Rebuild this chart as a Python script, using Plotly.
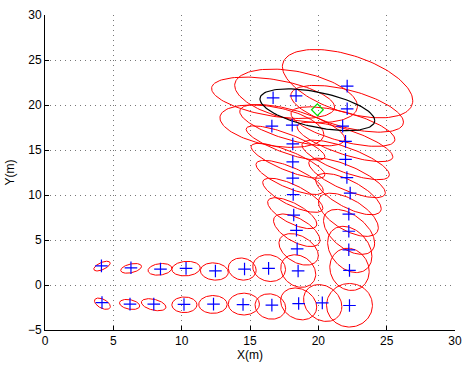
import numpy as np
import plotly.graph_objects as go

# True landmark positions (blue crosses)
cross_x = [4.13, 6.29, 8.45, 10.32, 12.47, 14.60, 16.36, 18.52,
           4.17, 6.22, 7.96, 10.17, 12.33, 14.49, 16.60, 18.56, 20.29, 22.28,
           18.45, 18.40, 18.20, 18.16, 18.13, 18.13, 18.13,
           22.28, 22.23, 22.23, 22.23, 22.33, 22.09, 21.99, 21.99,
           16.60, 18.09, 21.78, 16.69, 18.37, 22.11, 22.11]
cross_y = [2.13, 1.91, 1.77, 1.85, 1.56, 1.77, 1.85, 1.56,
           -1.95, -2.13, -2.13, -2.16, -2.13, -2.17, -2.24, -2.06, -1.99, -2.28,
           4.02, 6.08, 7.77, 10.05, 11.87, 13.68, 15.67,
           1.63, 3.91, 5.97, 7.88, 10.21, 11.94, 13.96, 15.96,
           17.65, 17.76, 17.65, 20.80, 21.02, 19.58, 22.10]

# Estimated landmark uncertainty ellipses: centre, x half-extent, y half-extent, correlation
ell_cx = [4.17, 6.30, 8.41, 10.32, 12.39, 14.43, 16.40, 18.53,
          4.20, 6.19, 7.95, 10.20, 12.29, 14.55, 16.49, 18.56, 20.32, 22.28,
          18.56, 18.42, 18.09, 18.13, 17.90, 17.78, 17.60,
          22.28, 22.30, 22.25, 22.20, 22.20, 22.10, 22.00, 21.95,
          16.60, 18.09, 21.80, 16.69, 18.37, 22.11, 22.14]
ell_cy = [2.10, 1.85, 1.74, 1.82, 1.50, 1.77, 1.88, 1.55,
          -2.08, -2.16, -2.19, -2.20, -2.16, -2.12, -2.39, -2.10, -2.00, -2.25,
          3.96, 6.08, 7.98, 9.97, 11.95, 13.80, 15.78,
          1.74, 3.95, 5.90, 7.80, 10.10, 11.90, 13.90, 15.90,
          17.65, 17.76, 17.60, 20.80, 21.02, 19.58, 22.37]
ell_sx = [0.60, 0.76, 0.87, 1.04, 1.02, 1.02, 1.20, 1.28,
          0.58, 0.74, 0.90, 0.92, 1.04, 1.14, 1.12, 1.32, 1.40, 1.68,
          1.44, 1.70, 1.80, 2.20, 2.46, 2.70, 2.88,
          1.44, 1.62, 1.87, 2.19, 2.40, 2.80, 3.20, 3.50,
          3.80, 3.84, 3.80, 4.50, 4.49, 4.12, 4.77]
ell_sy = [0.54, 0.54, 0.65, 0.81, 0.96, 1.23, 1.49, 1.81,
          0.63, 0.56, 0.67, 0.87, 0.99, 1.21, 1.41, 1.77, 2.05, 2.42,
          1.75, 1.81, 1.72, 1.90, 1.90, 1.94, 1.90,
          2.35, 2.57, 2.50, 2.40, 2.30, 2.20, 2.20, 2.20,
          2.36, 2.30, 2.20, 2.30, 2.97, 2.60, 3.80]
ell_rho = [0.6, 0.4, 0.2, 0.1, -0.1, -0.1, -0.1, -0.2,
           -0.5, -0.3, -0.4, 0.0, 0.0, 0.0, -0.1, -0.2, -0.2, 0.0,
           -0.4, -0.6, -0.7, -0.75, -0.75, -0.8, -0.8,
           -0.1, -0.3, -0.5, -0.6, -0.7, -0.75, -0.75, -0.75,
           -0.39, -0.66, -0.65, -0.45, -0.39, -0.57, -0.5]

# Robot pose estimate (green diamond) and its uncertainty ellipse (black)
robot_x, robot_y = 19.93, 19.47
robot_sx, robot_sy, robot_rho = 4.2, 2.32, -0.52

t = np.linspace(0, 2 * np.pi, 121)


def ellipse(cx, cy, sx, sy, rho):
    ex = cx + sx * np.cos(t)
    ey = cy + sy * (rho * np.cos(t) + np.sqrt(1 - rho ** 2) * np.sin(t))
    return ex, ey


rx, ry = [], []
for cx, cy, sx, sy, r in zip(ell_cx, ell_cy, ell_sx, ell_sy, ell_rho):
    ex, ey = ellipse(cx, cy, sx, sy, r)
    rx += list(ex) + [None]
    ry += list(ey) + [None]

fig = go.Figure()
fig.add_trace(go.Scatter(x=rx, y=ry, mode="lines", line=dict(color="#ff0000", width=1),
                         hoverinfo="skip", showlegend=False))
bx, by = ellipse(robot_x, robot_y, robot_sx, robot_sy, robot_rho)
fig.add_trace(go.Scatter(x=bx, y=by, mode="lines", line=dict(color="#000000", width=1.2),
                         showlegend=False))
fig.add_trace(go.Scatter(x=cross_x, y=cross_y, mode="markers",
                         marker=dict(symbol="cross-thin-open", size=9, color="#0000ff",
                                     line=dict(color="#0000ff", width=1.2)),
                         showlegend=False))
fig.add_trace(go.Scatter(x=[robot_x], y=[robot_y], mode="markers",
                         marker=dict(symbol="diamond-open", size=9, color="#00dd00",
                                     line=dict(color="#00dd00", width=1.2)),
                         showlegend=False))

axis_common = dict(showgrid=True, gridcolor="#777777", griddash="1px,4px", gridwidth=1,
                   zeroline=False, showline=True, linecolor="#000000", linewidth=1,
                   ticks="inside", ticklen=4, tickcolor="#000000", dtick=5,
                   tickfont=dict(family="Liberation Sans, Arial, sans-serif", size=12, color="#000000"),
                   mirror=False)
fig.update_layout(
    width=470, height=369,
    margin=dict(l=45, r=8, t=8, b=39),
    paper_bgcolor="white", plot_bgcolor="white",
    font=dict(family="Liberation Sans, Arial, sans-serif", size=12, color="#000000"),
    xaxis=dict(range=[0, 30], title=dict(text="X(m)", standoff=2, font=dict(size=12)), **axis_common),
    yaxis=dict(range=[-5, 30], title=dict(text="Y(m)", standoff=10, font=dict(size=12)), **axis_common),
)
fig.write_html("out.html")
